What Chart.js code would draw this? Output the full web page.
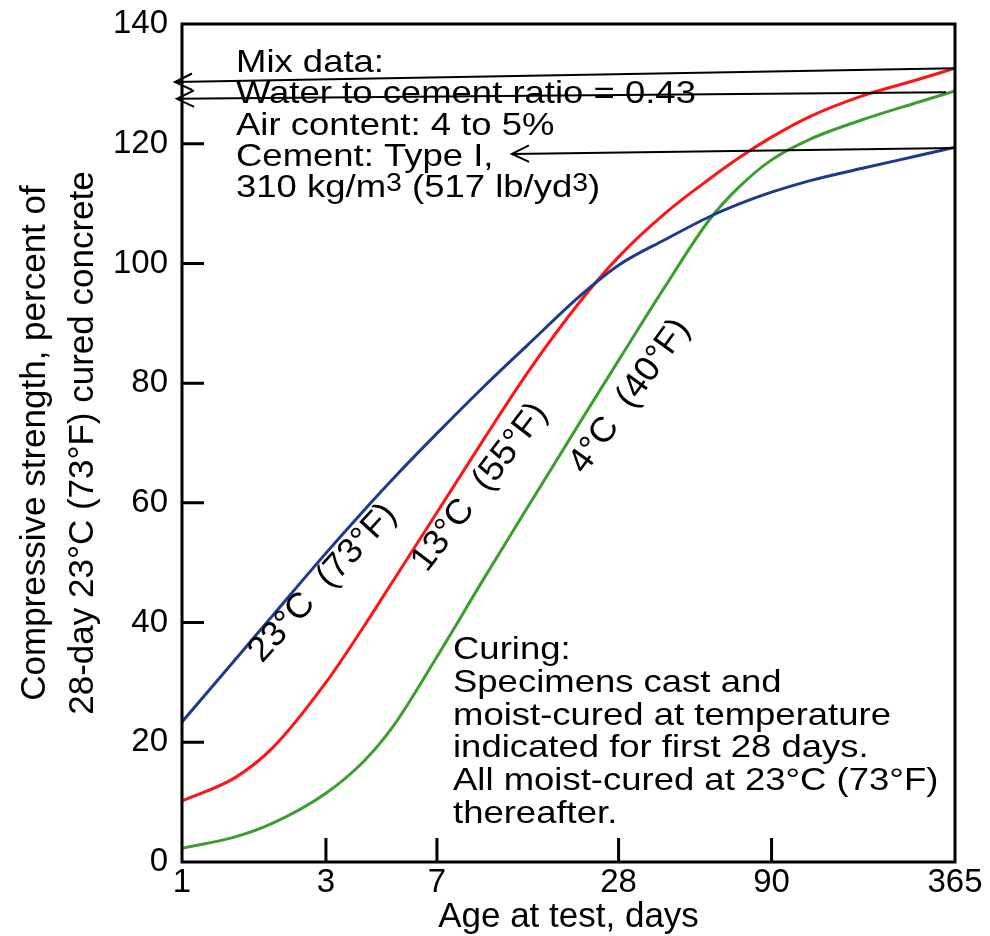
<!DOCTYPE html>
<html>
<head>
<meta charset="utf-8">
<script src="https://cdn.jsdelivr.net/npm/chart.js@4.4.1/dist/chart.umd.min.js"></script>
<style>
  html, body { margin: 0; padding: 0; background: #fff; }
  canvas { display: block; }
</style>
</head>
<body>
<canvas id="canvas" width="990" height="936"></canvas>
<script>
// age at test (days) and strength (% of 28-day 23°C strength)
const days = [1, 1.5, 2, 3, 4, 5, 7, 10, 14, 21, 28, 40, 56, 70, 90, 120, 180, 270, 365];
const cured23 = [23.4, 33.8, 41.2, 51.6, 58.7, 64.0, 71.6, 79.4, 86.4, 94.7, 99.7, 104.0, 107.8, 109.9, 111.9, 113.8, 115.9, 117.9, 119.4];
const cured13 = [10.2, 14.1, 19.1, 30.0, 39.3, 46.9, 58.4, 70.6, 81.8, 93.8, 101.1, 108.4, 114.1, 117.6, 121.1, 124.5, 128.0, 130.6, 132.6];
const cured4 = [2.3, 4.2, 6.5, 11.5, 16.8, 22.6, 34.3, 47.3, 59.3, 73.7, 83.8, 96.2, 107.3, 112.7, 117.3, 120.7, 124.0, 126.8, 128.8];

const xTicks = [1, 3, 7, 28, 90, 365];
const yTicks = [0, 20, 40, 60, 80, 100, 120, 140];

const FONT = "'Liberation Sans', Arial, Helvetica, sans-serif";
const STRETCH = 1.14;   // the lettering in the original is a bit wide

function series(values) {
    return days.map((d, i) => ({x: d, y: values[i]}));
}

// stretched text, drawn along its own baseline
function wideText(ctx, str, x, y, size) {
    ctx.save();
    ctx.translate(x, y);
    ctx.scale(STRETCH, 1);
    ctx.font = size + 'px ' + FONT;
    ctx.fillText(str, 0, 0);
    ctx.restore();
    ctx.font = size + 'px ' + FONT;
    return ctx.measureText(str).width * STRETCH;
}

function arrow(ctx, x0, y0, x1, y1) {
    const ang = Math.atan2(y1 - y0, x1 - x0);
    const len = 19, spread = 0.45;
    ctx.beginPath();
    ctx.moveTo(x0, y0);
    ctx.lineTo(x1, y1);
    ctx.moveTo(x1 - len * Math.cos(ang - spread), y1 - len * Math.sin(ang - spread));
    ctx.lineTo(x1, y1);
    ctx.lineTo(x1 - len * Math.cos(ang + spread), y1 - len * Math.sin(ang + spread));
    ctx.stroke();
}

const mixLines = ['Mix data:', 'Water to cement ratio = 0.43', 'Air content: 4 to 5%', 'Cement: Type I,'];
const curingLines = ['Curing:', 'Specimens cast and', 'moist-cured at temperature',
    'indicated for first 28 days.', 'All moist-cured at 23°C (73°F)', 'thereafter.'];

// curve labels: centre (days, %), angle in degrees
const curveLabels = [
    {text: '23°C  (73°F)', at: [2.93, 46.6], angle: -47.5},
    {text: '13°C  (55°F)', at: [9.72, 62.6], angle: -52.8},
    {text: '4°C  (40°F)', at: [30.5, 77.8], angle: -54.1}
];

// pointers from the 365-day ends back to the mix data
const pointers = [
    {from: [365, 132.6], to: [0.948, 130.3]},
    {from: [341, 128.6], to: [0.962, 127.5]},
    {from: [365, 119.3], to: [12.4, 118.3]}
];

const annotations = {
    id: 'annotations',
    afterDatasetsDraw(chart) {
        const {ctx, chartArea: a, scales: {x, y}} = chart;
        ctx.save();
        ctx.strokeStyle = '#000';
        ctx.fillStyle = '#000';

        // frame and inward ticks
        ctx.lineWidth = 3;
        ctx.strokeRect(a.left, a.top, a.right - a.left, a.bottom - a.top);
        ctx.beginPath();
        yTicks.slice(1, -1).forEach(v => {
            const py = y.getPixelForValue(v);
            ctx.moveTo(a.left, py);
            ctx.lineTo(a.left + 22, py);
        });
        xTicks.slice(1, -1).forEach(v => {
            const px = x.getPixelForValue(v);
            ctx.moveTo(px, a.bottom);
            ctx.lineTo(px, a.bottom - 24);
        });
        ctx.stroke();

        // curve labels
        ctx.textAlign = 'center';
        ctx.textBaseline = 'middle';
        curveLabels.forEach(l => {
            ctx.save();
            ctx.translate(x.getPixelForValue(l.at[0]), y.getPixelForValue(l.at[1]));
            ctx.rotate(l.angle * Math.PI / 180);
            ctx.scale(1.03, 1);
            ctx.font = '35px ' + FONT;
            ctx.fillText(l.text, 0, 0);
            ctx.restore();
        });

        // text blocks
        ctx.textAlign = 'left';
        ctx.textBaseline = 'alphabetic';
        const mx = a.left + 54, my = a.top + 48, mStep = 31.3;
        mixLines.forEach((s, i) => wideText(ctx, s, mx, my + i * mStep, 32));
        let cx = mx;
        const by = my + 4 * mStep;
        [['310 kg/m', 0], ['3', 1], [' (517 lb/yd', 0], ['3', 1], [')', 0]].forEach(([s, sup]) => {
            cx += sup ? wideText(ctx, s, cx, by - 6, 25) : wideText(ctx, s, cx, by, 32);
        });

        const qx = a.left + 271, qy = a.top + 635, qStep = 32.8;
        curingLines.forEach((s, i) => wideText(ctx, s, qx, qy + i * qStep, 32));

        // pointer arrows
        ctx.lineWidth = 2;
        pointers.forEach(p => arrow(ctx,
            x.getPixelForValue(p.from[0]), y.getPixelForValue(p.from[1]),
            x.getPixelForValue(p.to[0]), y.getPixelForValue(p.to[1])));

        ctx.restore();
    }
};

const ctx = document.getElementById('canvas').getContext('2d');
const myChart = new Chart(ctx, {
    type: 'line',
    data: {
        datasets: [{
            label: '23°C (73°F)',
            data: series(cured23),
            borderColor: '#1e3a8c',
            borderWidth: 3,
            pointRadius: 0,
            fill: false,
            cubicInterpolationMode: 'monotone'
        }, {
            label: '13°C (55°F)',
            data: series(cured13),
            borderColor: '#ff1414',
            borderWidth: 3,
            pointRadius: 0,
            fill: false,
            cubicInterpolationMode: 'monotone'
        }, {
            label: '4°C (40°F)',
            data: series(cured4),
            borderColor: '#3c9e2e',
            borderWidth: 3,
            pointRadius: 0,
            fill: false,
            cubicInterpolationMode: 'monotone'
        }]
    },
    options: {
        responsive: false,
        animation: false,
        layout: {padding: {top: 24, right: 35, left: 0, bottom: 0}},
        plugins: {
            legend: {display: false},
            tooltip: {enabled: false}
        },
        scales: {
            x: {
                type: 'logarithmic',
                min: 1,
                max: 365,
                afterBuildTicks: s => { s.ticks = xTicks.map(v => ({value: v})); },
                afterFit: s => { s.height = 74; s.paddingLeft = 0; s.paddingRight = 0; },
                grid: {display: false, drawTicks: false},
                border: {display: false},
                ticks: {
                    callback: v => String(v),
                    autoSkip: false,
                    maxRotation: 0,
                    padding: 1,
                    color: '#000',
                    font: {family: FONT, size: 33, lineHeight: 1.2}
                },
                title: {
                    display: true,
                    text: 'Age at test, days',
                    color: '#000',
                    font: {family: FONT, size: 35, lineHeight: 1},
                    padding: {top: 0, bottom: 1}
                }
            },
            y: {
                min: 0,
                max: 140,
                afterBuildTicks: s => { s.ticks = yTicks.map(v => ({value: v})); },
                afterFit: s => { s.width = 182; s.paddingTop = 0; s.paddingBottom = 0; },
                grid: {display: false, drawTicks: false},
                border: {display: false},
                ticks: {
                    padding: 14,
                    color: '#000',
                    font: {family: FONT, size: 33}
                },
                title: {
                    display: true,
                    text: ['Compressive strength, percent of', '28-day 23°C (73°F) cured concrete'],
                    color: '#000',
                    font: {family: FONT, size: 35, lineHeight: 1.37},
                    padding: {top: 11, bottom: 0}
                }
            }
        }
    },
    plugins: [annotations]
});
</script>
</body>
</html>
